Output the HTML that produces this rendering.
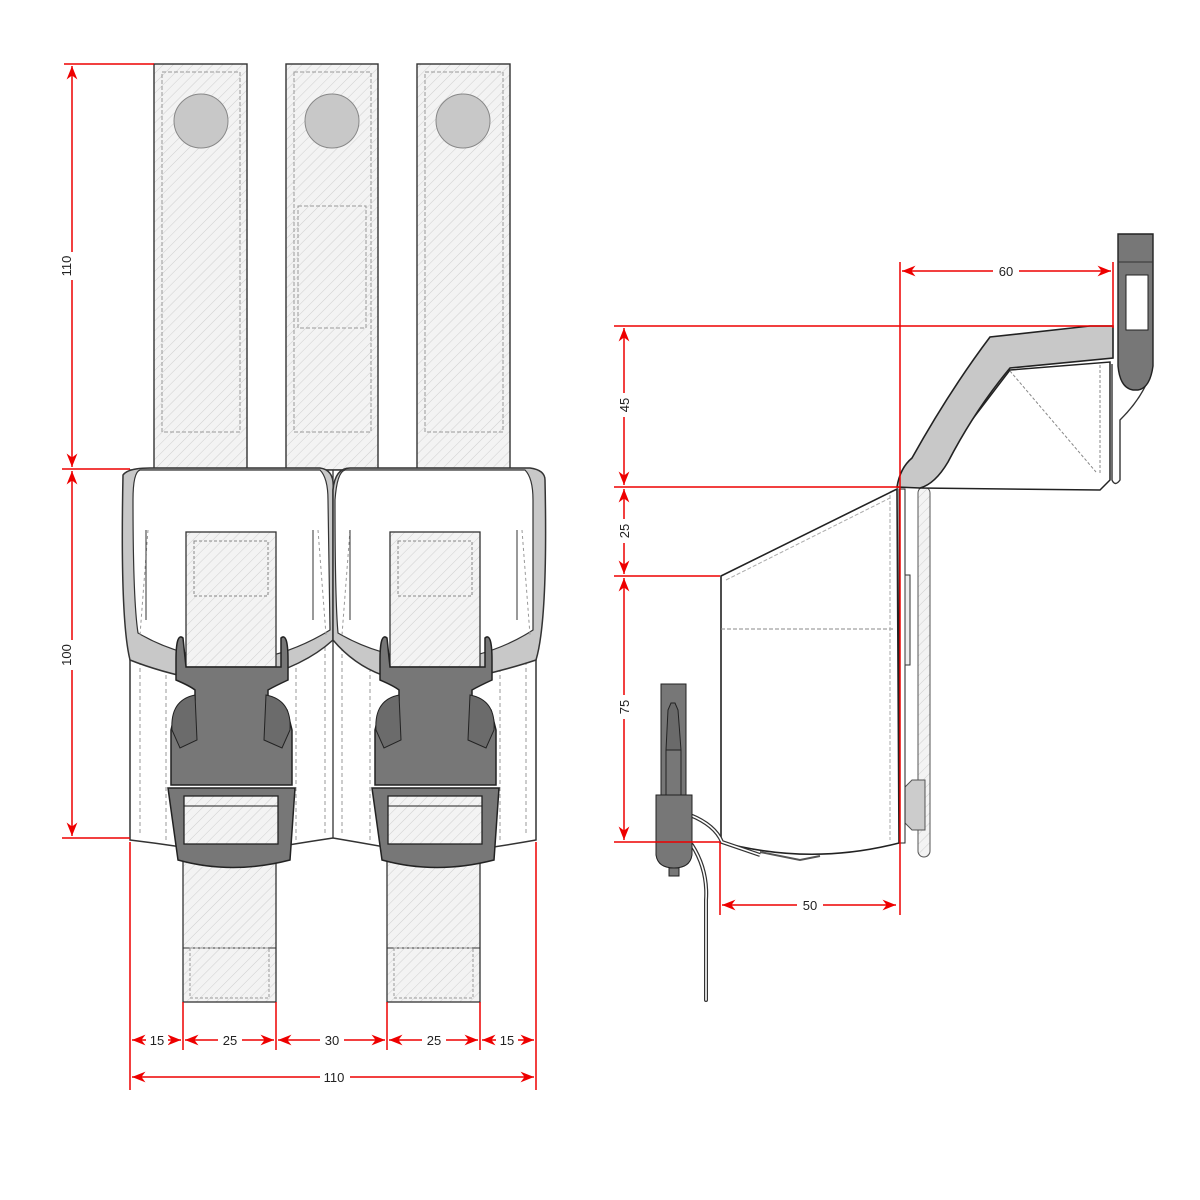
<!DOCTYPE html>
<html><head><meta charset="utf-8"><style>
html,body{margin:0;padding:0;background:#fff}
svg{display:block}
text{font-family:"Liberation Sans",sans-serif;font-size:13px;fill:#222}
</style></head><body>
<svg width="1200" height="1200" viewBox="0 0 1200 1200" xmlns="http://www.w3.org/2000/svg">
<defs>
<pattern id="h" width="7" height="7" patternUnits="userSpaceOnUse" patternTransform="rotate(45)">
<rect width="7" height="7" fill="#f3f3f3"/><line x1="0" y1="0" x2="0" y2="7" stroke="#cfcfcf" stroke-width="1"/>
</pattern>
<marker id="a" viewBox="0 0 10 10" refX="10" refY="5" markerWidth="9" markerHeight="9" orient="auto-start-reverse">
<path d="M0,1 L10,5 L0,9 L3,5 Z" fill="#e00"/></marker>
<g id="buckle">
 <!-- lower strap -->
 <rect x="183" y="800" width="93" height="202" fill="url(#h)" stroke="#333" stroke-width="1.3"/>
 <line x1="183" y1="948" x2="276" y2="948" stroke="#333"/>
 <rect x="190" y="948" width="79" height="50" fill="none" stroke="#999" stroke-dasharray="3,2"/>
 <!-- upper strap -->
 <rect x="186" y="532" width="90" height="135" fill="url(#h)" stroke="#333" stroke-width="1.3"/>
 <rect x="194" y="541" width="74" height="55" fill="none" stroke="#888" stroke-dasharray="3,2"/>
 <!-- buckle body -->
 <path d="M183,638 Q176,632 176,660 L176,680 Q190,686 195,690 L195,700 L176,710 L171,730 L171,785 L292,785 L292,730 L287,710 L268,700 L268,690 Q275,686 288,680 L288,660 Q288,632 281,638 L281,667 L186,667 Z" fill="#777" stroke="#222" stroke-width="1.5"/>
 <path d="M172,730 Q170,700 195,695 L197,740 L180,748 Z" fill="#6b6b6b" stroke="#222"/>
 <path d="M290,730 Q292,700 266,695 L264,740 L282,748 Z" fill="#6b6b6b" stroke="#222"/>
 <path d="M168,788 L295,788 L290,860 Q232,875 178,860 Z" fill="#777" stroke="#222" stroke-width="1.5"/>
 <rect x="184" y="796" width="94" height="48" fill="url(#h)" stroke="#222" stroke-width="1.3"/>
 <line x1="184" y1="806" x2="278" y2="806" stroke="#222"/>
 <line x1="184" y1="844" x2="278" y2="844" stroke="#222"/>
</g>
</defs>

<!-- top straps -->
<g stroke="#333" stroke-width="1.4">
<rect x="154" y="64" width="93" height="406" fill="url(#h)"/>
<rect x="286" y="64" width="92" height="406" fill="url(#h)"/>
<rect x="417" y="64" width="93" height="406" fill="url(#h)"/>
</g>
<g fill="none" stroke="#999" stroke-dasharray="4,2">
<rect x="162" y="72" width="78" height="360"/>
<rect x="294" y="72" width="77" height="360"/>
<rect x="425" y="72" width="78" height="360"/>
<rect x="298" y="206" width="68" height="122"/>
</g>
<g fill="#c8c8c8" stroke="#888"><circle cx="201" cy="121" r="27"/><circle cx="332" cy="121" r="27"/><circle cx="463" cy="121" r="27"/></g>

<!-- body lower -->
<path d="M130,470 L536,470 L536,840 Q480,850 430,855 Q380,846 333,838 Q280,846 230,855 Q180,846 130,840 Z" fill="#fff" stroke="#333" stroke-width="1.5"/>
<line x1="333" y1="470" x2="333" y2="838" stroke="#333" stroke-width="1.3"/>
<g stroke="#999" stroke-dasharray="4,3">
<line x1="140" y1="640" x2="140" y2="835"/><line x1="166" y1="640" x2="166" y2="840"/>
<line x1="296" y1="640" x2="296" y2="840"/><line x1="325" y1="640" x2="325" y2="835"/>
<line x1="342" y1="640" x2="342" y2="835"/><line x1="370" y1="640" x2="370" y2="840"/>
<line x1="500" y1="640" x2="500" y2="840"/><line x1="526" y1="640" x2="526" y2="835"/>
</g>
<!-- flaps -->
<g stroke="#333" stroke-width="1.5">
<path d="M123,475 Q128,468 150,468 L320,468 Q335,470 333,490 L333,640 Q300,670 240,682 L200,680 Q160,672 130,660 Q120,620 123,475 Z" fill="#c8c8c8"/>
<path d="M140,470 L320,470 Q328,478 328,500 L330,630 Q290,655 240,662 Q180,658 138,633 Q133,600 133,500 Q133,472 140,470 Z" fill="#fff" stroke-width="1.2"/>
<path d="M333,490 Q335,468 350,468 L530,468 Q545,470 545,480 Q548,620 536,660 Q500,672 450,682 L400,680 Q360,672 333,640 Z" fill="#c8c8c8"/>
<path d="M345,470 L525,470 Q533,478 533,500 L533,630 Q495,655 440,662 Q380,658 338,633 Q335,600 335,500 Q337,472 345,470 Z" fill="#fff" stroke-width="1.2"/>
</g>
<g stroke="#999" stroke-dasharray="3,3" fill="none">
<path d="M148,530 L140,635"/><path d="M318,530 L326,635"/>
<path d="M350,530 L342,635"/><path d="M522,530 L530,635"/>
</g>
<g stroke="#333"><line x1="146" y1="530" x2="146" y2="620"/><line x1="313" y1="530" x2="313" y2="620"/><line x1="350" y1="530" x2="350" y2="620"/><line x1="517" y1="530" x2="517" y2="620"/></g>
<use href="#buckle"/>
<use href="#buckle" transform="translate(204,0)"/>

<!-- left dims -->
<g stroke="#e00" stroke-width="1.5" fill="none">
<line x1="64" y1="64" x2="154" y2="64"/>
<line x1="62" y1="469" x2="130" y2="469"/>
<line x1="62" y1="838" x2="130" y2="838"/>
<line x1="72" y1="66" x2="72" y2="467" marker-start="url(#a)" marker-end="url(#a)"/>
<line x1="72" y1="471" x2="72" y2="836" marker-start="url(#a)" marker-end="url(#a)"/>
<line x1="130" y1="842" x2="130" y2="1090"/><line x1="183" y1="1002" x2="183" y2="1050"/>
<line x1="276" y1="1002" x2="276" y2="1050"/><line x1="387" y1="1002" x2="387" y2="1050"/>
<line x1="480" y1="1002" x2="480" y2="1050"/><line x1="536" y1="842" x2="536" y2="1090"/>
<line x1="132" y1="1040" x2="181" y2="1040" marker-start="url(#a)" marker-end="url(#a)"/>
<line x1="185" y1="1040" x2="274" y2="1040" marker-start="url(#a)" marker-end="url(#a)"/>
<line x1="278" y1="1040" x2="385" y2="1040" marker-start="url(#a)" marker-end="url(#a)"/>
<line x1="389" y1="1040" x2="478" y2="1040" marker-start="url(#a)" marker-end="url(#a)"/>
<line x1="482" y1="1040" x2="534" y2="1040" marker-start="url(#a)" marker-end="url(#a)"/>
<line x1="132" y1="1077" x2="534" y2="1077" marker-start="url(#a)" marker-end="url(#a)"/>
</g>
<g fill="#fff"><rect x="60" y="252" width="14" height="28"/><rect x="60" y="640" width="14" height="30"/>
<rect x="146" y="1033" width="22" height="14"/><rect x="218" y="1033" width="24" height="14"/><rect x="320" y="1033" width="24" height="14"/><rect x="422" y="1033" width="24" height="14"/><rect x="496" y="1033" width="22" height="14"/><rect x="320" y="1070" width="30" height="14"/></g>
<text transform="translate(71,266) rotate(-90)" text-anchor="middle">110</text>
<text transform="translate(71,655) rotate(-90)" text-anchor="middle">100</text>
<text x="157" y="1045" text-anchor="middle">15</text>
<text x="230" y="1045" text-anchor="middle">25</text>
<text x="332" y="1045" text-anchor="middle">30</text>
<text x="434" y="1045" text-anchor="middle">25</text>
<text x="507" y="1045" text-anchor="middle">15</text>
<text x="334" y="1082" text-anchor="middle">110</text>

<!-- side view -->
<rect x="918" y="487" width="12" height="370" rx="6" fill="url(#h)" stroke="#555"/>
<path d="M902,790 L912,780 L925,780 L925,830 L912,830 L902,820 Z" fill="#ccc" stroke="#555"/>
<path d="M721,576 L897,489 L899,843 Q810,866 721,842 Z" fill="#fff" stroke="#222" stroke-width="1.6"/>
<line x1="721" y1="629" x2="895" y2="629" stroke="#888" stroke-dasharray="4,2"/>
<line x1="890" y1="495" x2="890" y2="840" stroke="#aaa" stroke-dasharray="4,2"/>
<line x1="726" y1="580" x2="890" y2="498" stroke="#aaa" stroke-dasharray="4,2"/>
<rect x="899" y="489" width="6" height="354" fill="#fff" stroke="#222"/>
<rect x="905" y="575" width="5" height="90" fill="#eee" stroke="#333"/>
<path d="M760,852 L800,860 L820,856" stroke="#555" fill="none" stroke-width="2"/>
<!-- lid -->
<path d="M920,488 L1100,490 L1110,480 L1110,362 L1010,370 Z" fill="#fff" stroke="#222" stroke-width="1.5"/>
<path d="M1010,371 L1096,472" stroke="#888" stroke-dasharray="3,2" fill="none"/>
<line x1="1100" y1="365" x2="1100" y2="475" stroke="#888" stroke-dasharray="3,2"/>
<path d="M897,487 Q900,468 912,458 Q950,390 990,337 L1090,326 L1113,326 L1113,358 L1010,368 Q975,410 948,462 Q935,484 920,488 Z" fill="#c8c8c8" stroke="#222" stroke-width="1.6"/>
<path d="M1112,364 L1112,480 Q1115,487 1120,480 L1120,420 Q1140,400 1148,380" stroke="#333" fill="none" stroke-width="1.4"/>
<path d="M1118,234 L1153,234 L1153,366 Q1150,388 1138,390 L1133,390 Q1120,388 1118,366 Z" fill="#777" stroke="#222" stroke-width="1.4"/>
<line x1="1118" y1="262" x2="1153" y2="262" stroke="#333"/>
<rect x="1126" y="275" width="22" height="55" fill="#fff" stroke="#222"/>
<!-- left small buckle -->
<path d="M692,845 Q708,870 706,900 L706,1000" stroke="#333" stroke-width="4" fill="none" stroke-linecap="round"/>
<path d="M692,845 Q708,870 706,900 L706,1000" stroke="#fff" stroke-width="1.6" fill="none" stroke-linecap="round"/>
<path d="M690,815 Q715,825 722,842 L760,855" stroke="#333" stroke-width="4" fill="none"/>
<path d="M690,815 Q715,825 722,842 L760,855" stroke="#fff" stroke-width="1.6" fill="none"/>
<rect x="661" y="684" width="25" height="112" fill="#777" stroke="#222"/>
<path d="M666,750 L668,710 L671,703 L675,703 L678,710 L681,750 Z" fill="#6a6a6a" stroke="#222"/>
<line x1="666" y1="750" x2="666" y2="795" stroke="#222"/><line x1="681" y1="750" x2="681" y2="795" stroke="#222"/>
<path d="M656,795 L692,795 L692,855 Q690,868 674,868 Q658,868 656,855 Z" fill="#777" stroke="#222"/>
<rect x="669" y="868" width="10" height="8" fill="#777" stroke="#222"/>

<!-- side dims -->
<g stroke="#e00" stroke-width="1.5" fill="none">
<line x1="900" y1="262" x2="900" y2="915"/>
<line x1="1113" y1="262" x2="1113" y2="328"/>
<line x1="902" y1="271" x2="1111" y2="271" marker-start="url(#a)" marker-end="url(#a)"/>
<line x1="614" y1="326" x2="1113" y2="326"/>
<line x1="614" y1="487" x2="900" y2="487"/>
<line x1="614" y1="576" x2="720" y2="576"/>
<line x1="614" y1="842" x2="720" y2="842"/>
<line x1="624" y1="328" x2="624" y2="485" marker-start="url(#a)" marker-end="url(#a)"/>
<line x1="624" y1="489" x2="624" y2="574" marker-start="url(#a)" marker-end="url(#a)"/>
<line x1="624" y1="578" x2="624" y2="840" marker-start="url(#a)" marker-end="url(#a)"/>
<line x1="720" y1="842" x2="720" y2="915"/>
<line x1="722" y1="905" x2="896" y2="905" marker-start="url(#a)" marker-end="url(#a)"/>
</g>
<g fill="#fff"><rect x="993" y="264" width="26" height="14"/><rect x="617" y="393" width="14" height="24"/><rect x="617" y="519" width="14" height="24"/><rect x="617" y="695" width="14" height="24"/><rect x="797" y="898" width="26" height="14"/></g>
<text x="1006" y="276" text-anchor="middle">60</text>
<text transform="translate(629,405) rotate(-90)" text-anchor="middle">45</text>
<text transform="translate(629,531) rotate(-90)" text-anchor="middle">25</text>
<text transform="translate(629,707) rotate(-90)" text-anchor="middle">75</text>
<text x="810" y="910" text-anchor="middle">50</text>
</svg>
</body></html>
